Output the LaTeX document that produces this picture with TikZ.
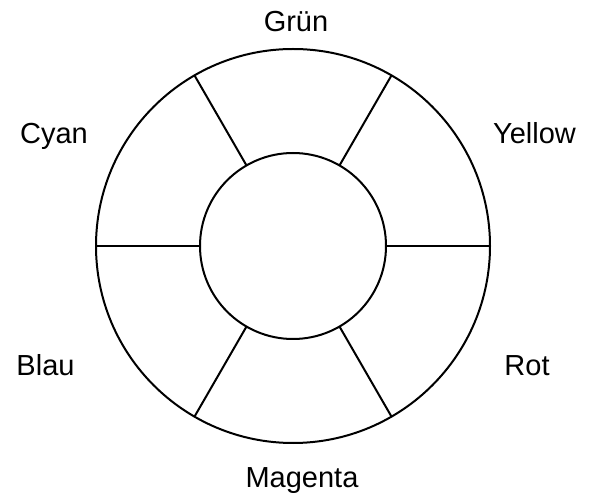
\documentclass[tikz,border=0pt]{standalone}
\usepackage{fontspec}
\setmainfont{Liberation Sans}
\usepackage{tikz}

\begin{document}
\begin{tikzpicture}[
  x=1pt, y=1pt,
  font=\fontsize{29}{35}\selectfont,
  ring/.style={circle, draw=black, line width=2pt, inner sep=0pt, outer sep=0pt},
  spoke/.style={draw=black, line width=2pt},
  hue/.style={anchor=base, inner sep=0pt}
]
  \useasboundingbox (0,0) rectangle (592,493);
  % wheel
  \node[ring, minimum size=394pt] (rim) at (293,247) {};
  \node[ring, minimum size=186pt] (hub) at (293,247) {};
  \foreach \ang in {0,60,...,300}
    \draw[spoke] (hub.\ang) -- (rim.\ang);
  % colour names
  \node[hue] (gruen) at (296,461) {Grün};
  \node[hue] (yellow) at (534.5,349) {Yellow};
  \node[hue] (cyan) at (54,349) {Cyan};
  \node[hue] (blau) at (45.5,117) {Blau};
  \node[hue] (rot) at (527,117) {Rot};
  \node[hue] (magenta) at (302,6) {Magenta};
\end{tikzpicture}
\end{document}
